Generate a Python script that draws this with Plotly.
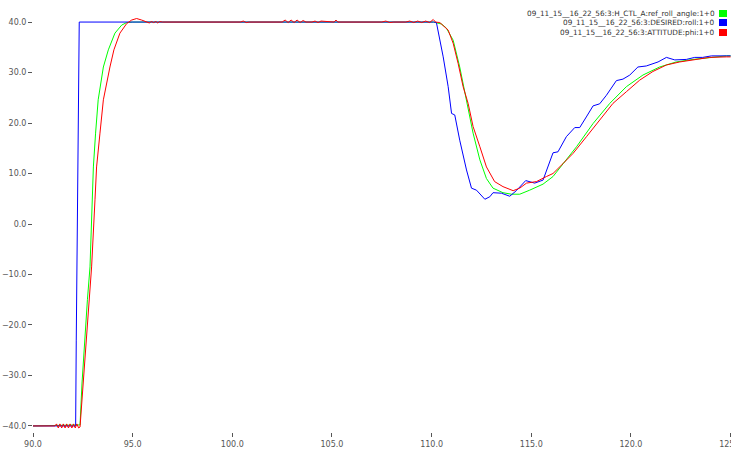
import plotly.graph_objects as go

names = [
    "09_11_15__16_22_56:3:H_CTL_A:ref_roll_angle:1+0",
    "09_11_15__16_22_56:3:DESIRED:roll:1+0",
    "09_11_15__16_22_56:3:ATTITUDE:phi:1+0",
]
colors = ["#00ff00", "#0000ff", "#ff0000"]

# ref_roll_angle (green)
t_ref = [90.0, 92.36, 92.46, 92.61, 92.73, 92.86, 92.93, 92.98, 93.03, 93.14, 93.27,
         93.53, 93.78, 94.11, 94.45, 94.7, 95.0, 110.1, 110.24, 110.5, 110.74, 111.08,
         111.41, 111.75, 112.08, 112.42, 112.75, 113.08, 113.58, 114.0, 114.42, 114.92,
         115.59, 116.09, 116.6, 117.27, 118.1, 118.94, 119.77, 120.6, 121.44, 122.27,
         123.11, 123.95, 124.79, 125.0]
v_ref = [-40.0, -39.8, -31.5, -21.6, -15.0, -8.5, -1.8, 4.8, 11.3, 18.0, 24.6,
         31.1, 34.5, 37.8, 39.4, 39.9, 40.0, 40.0, 39.9, 39.6, 38.8, 36.4,
         31.1, 24.6, 18.0, 12.7, 9.0, 7.1, 6.2, 5.9, 5.9, 6.7,
         7.9, 9.4, 12.0, 15.3, 19.9, 23.9, 27.2, 29.5, 31.1, 32.1,
         32.6, 33.0, 33.3, 33.3]

# DESIRED roll (blue)
t_des = [90.0, 92.14, 92.17, 92.2, 92.24, 92.28, 92.32, 110.1, 110.24, 110.58, 110.83,
         111.0, 111.16, 111.41, 111.75, 112.0, 112.25, 112.67, 112.92, 113.08, 113.5,
         113.92, 114.25, 114.72, 115.17, 115.59, 115.84, 116.09, 116.34, 116.76, 117.18,
         117.43, 117.76, 118.1, 118.43, 118.77, 119.27, 119.6, 119.94, 120.35, 120.77,
         121.36, 121.78, 122.2, 122.78, 123.2, 123.6, 124.04, 124.8, 125.0]
v_des = [-40.0, -40.0, -23.0, -11.5, 11.3, 23.0, 40.0, 40.0, 39.9, 33.1, 27.2,
         21.9, 21.6, 16.6, 10.7, 7.1, 6.7, 4.9, 5.4, 6.2, 6.1,
         5.5, 6.6, 8.6, 8.1, 8.7, 11.3, 14.1, 14.3, 17.3, 19.1,
         19.1, 21.2, 23.4, 23.8, 25.5, 28.4, 28.7, 29.5, 31.1, 31.3,
         32.1, 33.0, 32.5, 32.6, 33.0, 33.0, 33.3, 33.3, 33.3]

# ATTITUDE phi (red)
t_att = [90.0, 91.1, 91.18, 91.27, 91.35, 91.44, 91.52, 91.61, 91.69, 91.78, 91.86,
         91.95, 92.03, 92.12, 92.2, 92.29, 92.36, 92.52, 92.69, 92.94, 93.11, 93.19,
         93.36, 93.53, 93.86, 94.06, 94.36, 94.7, 94.95, 95.2, 95.45, 95.7, 95.85,
         95.95, 96.05, 96.15, 96.25, 96.35, 96.5, 100.4, 100.55, 100.7, 100.85, 102.5,
         102.65, 102.8, 102.95, 103.1, 103.25, 103.4, 103.55, 103.7, 104.0, 104.15,
         104.3, 104.45, 105.1, 105.2, 105.3, 107.5, 107.7, 107.9, 108.1, 108.7, 108.9,
         109.1, 109.3, 109.5, 109.7, 109.9, 110.08, 110.2, 110.41, 110.83, 111.08,
         111.33, 111.58, 111.83, 112.08, 112.42, 112.75, 113.16, 113.58, 114.09,
         114.42, 114.76, 115.26, 115.76, 116.09, 116.6, 117.1, 117.77, 118.44, 119.1,
         119.77, 120.44, 121.1, 121.78, 122.45, 123.28, 123.95, 124.79, 125.0]
v_att = [-40.0, -40.0, -39.6, -40.4, -39.6, -40.4, -39.6, -40.4, -39.6, -40.4, -39.6,
         -40.4, -39.6, -40.4, -39.6, -40.4, -40.2, -31.5, -21.6, -8.5, 4.8, 11.3,
         18.0, 24.6, 31.1, 34.5, 37.8, 39.7, 40.4, 40.7, 40.4, 40.1, 39.8,
         40.2, 39.8, 40.2, 39.8, 40.1, 40.0, 40.0, 40.2, 39.9, 40.0, 40.0,
         40.4, 39.9, 40.4, 39.9, 40.4, 39.9, 40.3, 40.0, 40.0, 40.2,
         39.9, 40.2, 40.0, 40.4, 40.0, 40.0, 40.2, 39.9, 40.0, 40.0, 40.2,
         39.9, 40.2, 39.9, 40.2, 39.9, 40.5, 40.0, 39.9, 38.4, 35.8,
         31.8, 27.2, 23.9, 19.3, 15.3, 11.3, 8.4, 7.4, 6.6,
         7.1, 8.1, 8.4, 9.4, 10.0, 12.0, 14.0, 17.3, 20.6, 23.9,
         26.2, 28.5, 30.2, 31.5, 32.1, 32.6, 33.0, 33.1, 33.1]

x_ticks = [90, 95, 100, 105, 110, 115, 120, 125]
y_ticks = [-40, -30, -20, -10, 0, 10, 20, 30, 40]

fig = go.Figure()
series = [(t_ref, v_ref), (t_des, v_des), (t_att, v_att)]
for (tx, vy), nm, col in zip(series, names, colors):
    fig.add_trace(go.Scatter(x=tx, y=vy, mode="lines", name=nm,
                             line=dict(color=col, width=1), showlegend=False))

tick_font = dict(family="DejaVu Sans", size=8, color="#555555")
fig.update_layout(
    width=731, height=450,
    margin=dict(l=33, r=0, t=16, b=18),
    paper_bgcolor="white", plot_bgcolor="white",
    template="none",
    xaxis=dict(range=[90, 125.02], tickvals=x_ticks, tickformat=".1f",
               showgrid=False, zeroline=False, showline=False,
               ticks="outside", ticklen=4, tickcolor="#555555",
               tickfont=tick_font, automargin=False, ticklabeloverflow="allow"),
    yaxis=dict(range=[-41.2, 41.2], tickvals=y_ticks, tickformat=".1f",
               showgrid=False, zeroline=False, showline=False,
               ticks="outside", ticklen=4, tickcolor="#555555",
               tickfont=tick_font, automargin=False),
)

# legend: text right-aligned with colored square at its right
leg_font = dict(family="DejaVu Sans", size=7.3, color="#333333")
row_offsets = [2.5, -6.5, -16.5]
for nm, col, dy in zip(names, colors, row_offsets):
    fig.add_annotation(xref="paper", yref="paper", x=1, y=1, xanchor="right",
                       yanchor="middle", xshift=-14, yshift=dy, text=nm,
                       showarrow=False, font=leg_font)
    fig.add_shape(type="rect", xref="paper", yref="paper",
                  xsizemode="pixel", ysizemode="pixel", xanchor=1, yanchor=1,
                  x0=-12, x1=-4, y0=dy - 3.5, y1=dy + 3.5,
                  fillcolor=col, line=dict(width=0))

fig.write_html("out.html")
